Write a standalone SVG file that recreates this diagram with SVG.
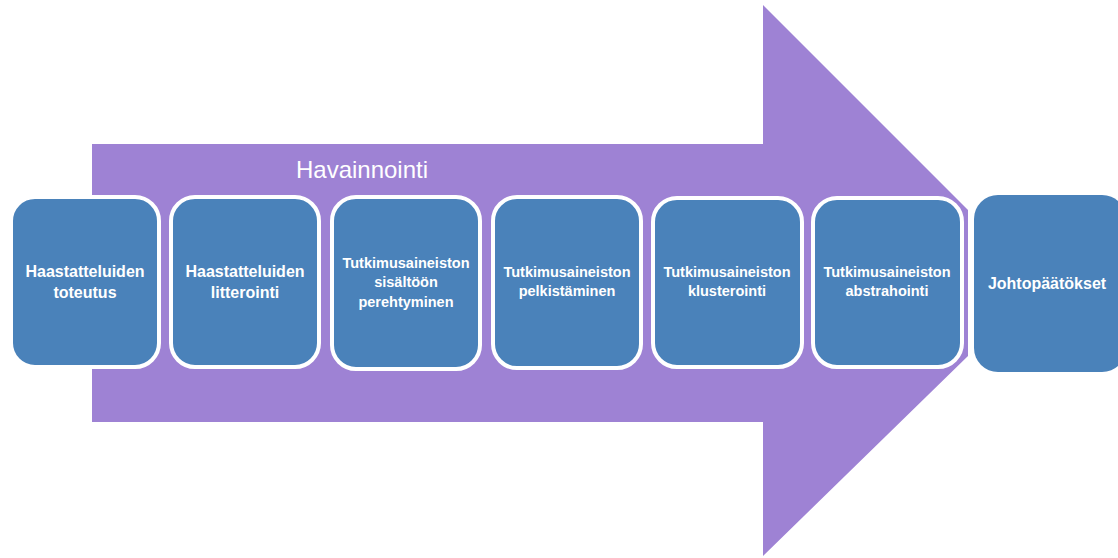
<svg xmlns="http://www.w3.org/2000/svg" width="1118" height="558" viewBox="0 0 1118 558">
<style>
.box{fill:#4A82BA;stroke:#fff;stroke-width:4}
.t{fill:#fff;font-family:"Liberation Sans",Arial,sans-serif;font-size:16px;font-weight:bold;text-anchor:middle}
.s{font-size:14.5px}
</style>
<rect width="1118" height="558" fill="#fff"/>
<g id="arrow">
<polygon points="92,144 763,144 763,5 968,210 968,356 763,556 763,422 92,422" fill="#9E82D4"/>
<text x="362" y="178" font-family="Liberation Sans,Arial,sans-serif" font-size="24" fill="#fff" text-anchor="middle">Havainnointi</text>
</g>
<g id="n1"><rect class="box" x="11" y="197" width="148" height="170" rx="24"/><text class="t" x="85" y="277">Haastatteluiden</text><text class="t" x="85" y="298">toteutus</text></g>
<g id="n2"><rect class="box" x="171" y="197" width="148" height="170" rx="24"/><text class="t" x="245" y="277">Haastatteluiden</text><text class="t" x="245" y="298">litterointi</text></g>
<g id="n3"><rect class="box" x="332" y="197" width="148" height="172" rx="24"/><text class="t s" x="406" y="268">Tutkimusaineiston</text><text class="t s" x="406" y="287">sisältöön</text><text class="t s" x="406" y="307">perehtyminen</text></g>
<g id="n4"><rect class="box" x="493" y="197" width="148" height="171" rx="24"/><text class="t s" x="567" y="277">Tutkimusaineiston</text><text class="t s" x="567" y="296">pelkistäminen</text></g>
<g id="n5"><rect class="box" x="653" y="198" width="149" height="169" rx="24"/><text class="t s" x="727" y="277">Tutkimusaineiston</text><text class="t s" x="727" y="296">klusterointi</text></g>
<g id="n6"><rect class="box" x="813" y="198" width="149" height="169" rx="24"/><text class="t s" x="887" y="277">Tutkimusaineiston</text><text class="t s" x="887" y="296">abstrahointi</text></g>
<g id="n7"><rect x="974" y="195" width="152" height="177" rx="24" fill="#4A82BA"/><text class="t" x="1047" y="289" font-size="18">Johtopäätökset</text></g>
<g id="connectors"></g>
</svg>
